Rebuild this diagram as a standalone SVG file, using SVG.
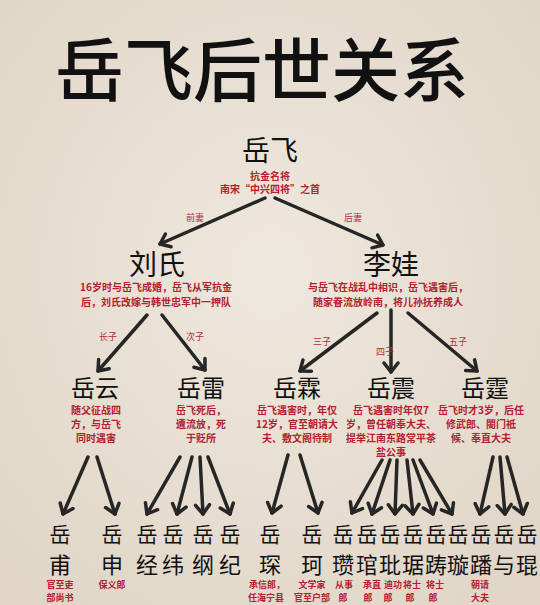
<svg xmlns="http://www.w3.org/2000/svg" width="540" height="605" viewBox="0 0 540 605">
<defs>
<radialGradient id="bg" cx="50%" cy="45%" r="70%">
<stop offset="0" stop-color="#efe8de"/>
<stop offset="1" stop-color="#e0d5c6"/>
</radialGradient>
<marker id="ah" markerUnits="userSpaceOnUse" markerWidth="20" markerHeight="20" refX="11" refY="10" orient="auto">
<path d="M2,3 L11,10 L2,17" fill="none" stroke="#262626" stroke-width="3.5" stroke-linecap="round" stroke-linejoin="round"/>
</marker>
<style>
.t{font-family:"Noto Sans CJK SC","Noto Sans",sans-serif;text-anchor:middle;fill:#111}
.title{font-size:69px;font-weight:500}
.n1{font-size:28px}
.n3{font-size:24px}
.n4{font-size:21px}
.n4b{font-size:22px}
.r{font-family:"Noto Sans CJK SC","Noto Sans",sans-serif;text-anchor:middle;fill:#b3202f;font-weight:700}
.r10{font-size:10px}
.r9{font-size:9px}
.lab{font-family:"Noto Sans CJK SC","Noto Sans",sans-serif;text-anchor:middle;fill:#b3303a;font-size:9px}
.c line{stroke:#262626;stroke-width:3.5;stroke-linecap:round;marker-end:url(#ah)}
</style>
</defs>
<rect width="540" height="605" fill="url(#bg)"/>
<text class="t title" x="262" y="96">岳飞后世关系</text>

<g id="connectors" class="c">
<line x1="265" y1="198" x2="160" y2="244"/>
<line x1="275" y1="198" x2="383" y2="245"/>
<line x1="147" y1="315" x2="98" y2="371"/>
<line x1="162" y1="315" x2="205" y2="370"/>
<line x1="377" y1="313" x2="300" y2="371"/>
<line x1="391" y1="310" x2="391" y2="372"/>
<line x1="408" y1="313" x2="477" y2="371"/>
<line x1="88" y1="457" x2="63" y2="514"/>
<line x1="97" y1="457" x2="115" y2="514"/>
<line x1="180" y1="457" x2="147" y2="514"/>
<line x1="192" y1="457" x2="177" y2="514"/>
<line x1="200" y1="457" x2="203" y2="514"/>
<line x1="208" y1="457" x2="230" y2="514"/>
<line x1="288" y1="455" x2="272" y2="513"/>
<line x1="300" y1="455" x2="318" y2="513"/>
<line x1="382" y1="460" x2="352" y2="513"/>
<line x1="390" y1="460" x2="372" y2="514"/>
<line x1="397" y1="460" x2="395" y2="514"/>
<line x1="407" y1="460" x2="413" y2="514"/>
<line x1="413" y1="460" x2="433" y2="514"/>
<line x1="420" y1="460" x2="452" y2="514"/>
<line x1="493" y1="457" x2="480" y2="514"/>
<line x1="500" y1="457" x2="505" y2="514"/>
<line x1="507" y1="457" x2="523" y2="514"/>
</g>

<g id="edge-labels">
<text class="lab" x="195" y="221">前妻</text>
<text class="lab" x="353" y="221">后妻</text>
<text class="lab" x="108" y="340">长子</text>
<text class="lab" x="195" y="340">次子</text>
<text class="lab" x="322" y="345">三子</text>
<text class="lab" x="385" y="355">四子</text>
<text class="lab" x="458" y="345">五子</text>
</g>

<g id="yuefei">
<text class="t n1" x="270" y="161">岳飞</text>
<text class="r r10" x="270" y="180">抗金名将</text>
<text class="r r10" x="270" y="193">南宋“中兴四将”之首</text>
</g>

<g id="liushi">
<text class="t n1" x="157" y="275">刘氏</text>
<text class="r r10" x="156" y="291">16岁时与岳飞成婚，岳飞从军抗金</text>
<text class="r r10" x="156" y="306">后，刘氏改嫁与韩世忠军中一押队</text>
</g>

<g id="liwa">
<text class="t n1" x="391" y="275">李娃</text>
<text class="r r10" x="388" y="291">与岳飞在战乱中相识，岳飞遇害后，</text>
<text class="r r10" x="388" y="306">随家眷流放岭南，将儿孙抚养成人</text>
</g>

<g id="yueyun">
<text class="t n3" x="95" y="397">岳云</text>
<text class="r r10" x="96" y="414">随父征战四</text>
<text class="r r10" x="96" y="428">方，与岳飞</text>
<text class="r r10" x="96" y="442">同时遇害</text>
</g>

<g id="yuelei">
<text class="t n3" x="201" y="397">岳雷</text>
<text class="r r10" x="201" y="414">岳飞死后，</text>
<text class="r r10" x="201" y="428">遭流放，死</text>
<text class="r r10" x="201" y="442">于贬所</text>
</g>

<g id="yuelin">
<text class="t n3" x="297" y="397">岳霖</text>
<text class="r r10" x="297" y="414">岳飞遇害时，年仅</text>
<text class="r r10" x="297" y="428">12岁，官至朝请大</text>
<text class="r r10" x="297" y="442">夫、敷文阁待制</text>
</g>

<g id="yuezhen">
<text class="t n3" x="391" y="397">岳震</text>
<text class="r r10" x="391" y="414">岳飞遇害时年仅7</text>
<text class="r r10" x="391" y="428">岁，曾任朝奉大夫、</text>
<text class="r r10" x="391" y="442">提举江南东路常平茶</text>
<text class="r r10" x="391" y="456">盐公事</text>
</g>

<g id="yueting">
<text class="t n3" x="485" y="397">岳霆</text>
<text class="r r10" x="481" y="414">岳飞时才3岁，后任</text>
<text class="r r10" x="481" y="428">修武郎、閤门祗</text>
<text class="r r10" x="481" y="442">候、奉直大夫</text>
</g>

<g id="yuefu"><text class="t n4" x="60" y="542">岳</text><text class="t n4b" x="60" y="573">甫</text>
<text class="r r9" x="60" y="588">官至吏</text><text class="r r9" x="60" y="601">部尚书</text></g>
<g id="yueshen"><text class="t n4" x="112" y="542">岳</text><text class="t n4b" x="112" y="573">申</text>
<text class="r r9" x="112" y="588">保义郎</text></g>
<g id="yuejing"><text class="t n4" x="147" y="542">岳</text><text class="t n4b" x="147" y="573">经</text></g>
<g id="yuewei"><text class="t n4" x="173" y="542">岳</text><text class="t n4b" x="173" y="573">纬</text></g>
<g id="yuegang"><text class="t n4" x="203" y="542">岳</text><text class="t n4b" x="203" y="573">纲</text></g>
<g id="yueji"><text class="t n4" x="230" y="542">岳</text><text class="t n4b" x="230" y="573">纪</text></g>
<g id="yuechen"><text class="t n4" x="270" y="542">岳</text><text class="t n4b" x="270" y="573">琛</text>
<text class="r r9" x="267" y="588">承信郎，</text><text class="r r9" x="266" y="601">任海宁县</text></g>
<g id="yueke"><text class="t n4" x="312" y="542">岳</text><text class="t n4b" x="312" y="573">珂</text>
<text class="r r9" x="312" y="588">文学家</text><text class="r r9" x="312" y="601">官至户部</text></g>
<g id="yuezan"><text class="t n4" x="343" y="542">岳</text><text class="t n4b" x="343" y="573">瓒</text>
<text class="r r9" x="344" y="588">从事</text><text class="r r9" x="343" y="601">郎</text></g>
<g id="yueguan"><text class="t n4" x="367" y="542">岳</text><text class="t n4b" x="367" y="573">琯</text>
<text class="r r9" x="372" y="588">承直</text><text class="r r9" x="368" y="601">郎</text></g>
<g id="yuepi"><text class="t n4" x="390" y="542">岳</text><text class="t n4b" x="390" y="573">玭</text>
<text class="r r9" x="393" y="588">迪功</text><text class="r r9" x="388" y="601">郎</text></g>
<g id="yueju"><text class="t n4" x="413" y="542">岳</text><text class="t n4b" x="413" y="573">琚</text>
<text class="r r9" x="412" y="588">将士</text><text class="r r9" x="410" y="601">郎</text></g>
<g id="yuechou"><text class="t n4" x="436" y="542">岳</text><text class="t n4b" x="436" y="573">踌</text>
<text class="r r9" x="435" y="588">将士</text><text class="r r9" x="433" y="601">郎</text></g>
<g id="yuexuan"><text class="t n4" x="458" y="542">岳</text><text class="t n4b" x="458" y="573">璇</text></g>
<g id="yuefan"><text class="t n4" x="481" y="542">岳</text><text class="t n4b" x="481" y="573">蹯</text>
<text class="r r9" x="480" y="588">朝请</text><text class="r r9" x="480" y="601">大夫</text></g>
<g id="yueyu"><text class="t n4" x="504" y="542">岳</text><text class="t n4b" x="504" y="573">与</text></g>
<g id="yuekun"><text class="t n4" x="527" y="542">岳</text><text class="t n4b" x="527" y="573">琨</text></g>
</svg>
